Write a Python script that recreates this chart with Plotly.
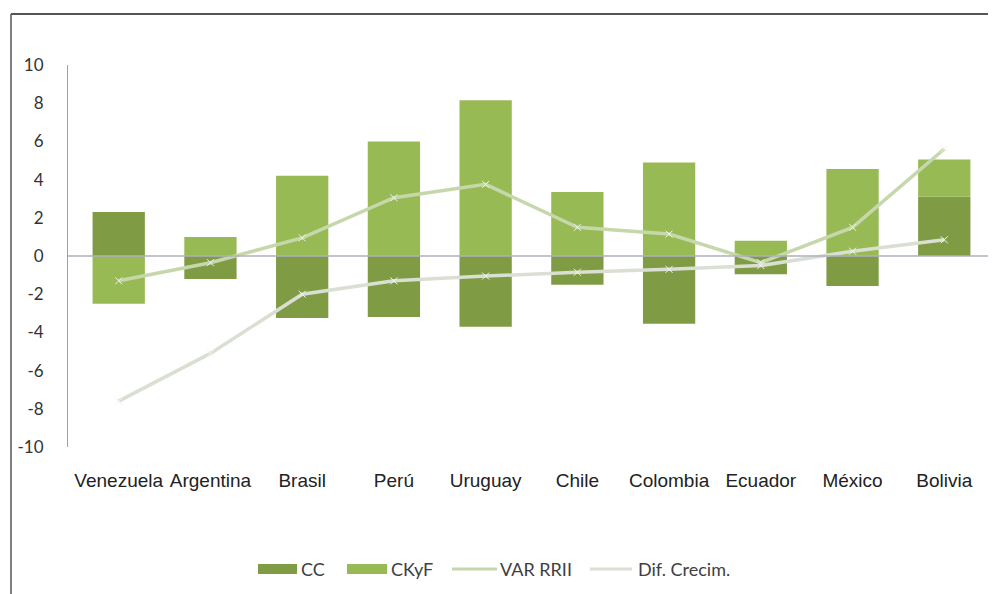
import plotly.graph_objects as go

countries = ["Venezuela", "Argentina", "Brasil", "Perú", "Uruguay",
             "Chile", "Colombia", "Ecuador", "México", "Bolivia"]
cc = [2.3, -1.2, -3.25, -3.2, -3.7, -1.5, -3.55, -0.95, -1.57, 3.1]
ckyf = [-2.5, 1.0, 4.2, 6.0, 8.15, 3.35, 4.9, 0.8, 4.55, 1.95]
var_rrii = [-1.3, -0.35, 0.95, 3.05, 3.75, 1.5, 1.15, -0.35, 1.5, 5.6]
dif_crecim = [-7.6, -5.1, -2.0, -1.3, -1.05, -0.85, -0.7, -0.5, 0.25, 0.85]
y_ticks = [10, 8, 6, 4, 2, 0, -2, -4, -6, -8, -10]

OFF = 8  # page body margin
W, H = 996 - OFF, 594 - OFF
PLOT_X0, PLOT_X1, PLOT_Y0, PLOT_Y1 = 68, 995, 65, 447  # screen coords
L = PLOT_X0 - OFF
T = PLOT_Y0 - OFF
PW = PLOT_X1 - PLOT_X0
PH = PLOT_Y1 - PLOT_Y0
R = W - L - PW
B = H - T - PH


def px(x):
    return (x - PLOT_X0) / PW


def py(y):
    return (PLOT_Y1 - y) / PH


C_CC = "#7f9c45"
C_CKYF = "#98ba55"
C_VAR = "#c6d8ab"
C_DIF = "#dadfd3"

fig = go.Figure()
fig.add_trace(go.Bar(x=countries, y=cc, name="CC", marker_color=C_CC,
                     marker_line_width=0, showlegend=False))
fig.add_trace(go.Bar(x=countries, y=ckyf, name="CKyF", marker_color=C_CKYF,
                     marker_line_width=0, showlegend=False))
fig.add_trace(go.Scatter(x=countries, y=var_rrii, name="VAR RRII", mode="lines+markers",
                         line=dict(color=C_VAR, width=3.5),
                         marker=dict(symbol="x-thin", size=7, line=dict(color="#eef3e6", width=1)),
                         showlegend=False))
fig.add_trace(go.Scatter(x=countries, y=dif_crecim, name="Dif. Crecim.", mode="lines+markers",
                         line=dict(color=C_DIF, width=3.5),
                         marker=dict(symbol="x-thin", size=7, line=dict(color="#f2f2f2", width=1)),
                         showlegend=False))

shapes = [
    # zero line
    dict(type="line", xref="paper", yref="y", x0=0, x1=1, y0=0, y1=0,
         line=dict(color="rgba(175,175,190,0.75)", width=2), layer="above"),
    # frame
    dict(type="line", xref="paper", yref="paper", x0=px(11), x1=px(11), y0=py(14), y1=py(600),
         line=dict(color="#555555", width=1.5)),
    dict(type="line", xref="paper", yref="paper", x0=px(11), x1=px(1000), y0=py(14), y1=py(14),
         line=dict(color="#555555", width=2)),
    # legend swatches
    dict(type="rect", xref="paper", yref="paper", x0=px(258), x1=px(297), y0=py(574), y1=py(564),
         fillcolor=C_CC, line=dict(width=0)),
    dict(type="rect", xref="paper", yref="paper", x0=px(347), x1=px(387), y0=py(574), y1=py(564),
         fillcolor=C_CKYF, line=dict(width=0)),
    dict(type="line", xref="paper", yref="paper", x0=px(452), x1=px(497), y0=py(569), y1=py(569),
         line=dict(color=C_VAR, width=3)),
    dict(type="line", xref="paper", yref="paper", x0=px(590), x1=px(632), y0=py(569), y1=py(569),
         line=dict(color=C_DIF, width=3)),
]

legend_font = dict(family="Lato, Open Sans, sans-serif", size=18, color="#404040")
annotations = []
for text, x0 in [("CC", 299), ("CKyF", 389), ("VAR RRII", 498), ("Dif. Crecim.", 636)]:
    annotations.append(dict(text=text, xref="paper", yref="paper", x=px(x0), y=py(569),
                            xanchor="left", yanchor="middle", showarrow=False, font=legend_font))

fig.update_layout(
    width=W, height=H,
    margin=dict(l=L, r=R, t=T, b=B),
    paper_bgcolor="white", plot_bgcolor="white",
    barmode="relative", bargap=0.43,
    showlegend=False,
    shapes=shapes, annotations=annotations,
    xaxis=dict(showgrid=False, showline=False, zeroline=False, ticks="",
               tickfont=dict(family="Liberation Sans, Arial, sans-serif", size=19, color="#222222"),
               ticklabelstandoff=20),
    yaxis=dict(range=[-10, 10], tickvals=y_ticks, ticktext=[str(v) for v in y_ticks],
               showgrid=False, zeroline=False, showline=True, linecolor="#a0a0a0", linewidth=1,
               ticks="", ticklabelstandoff=20,
               tickfont=dict(family="Lato, Open Sans, sans-serif", size=17, color="#333333")),
)

fig.write_html("out.html")
